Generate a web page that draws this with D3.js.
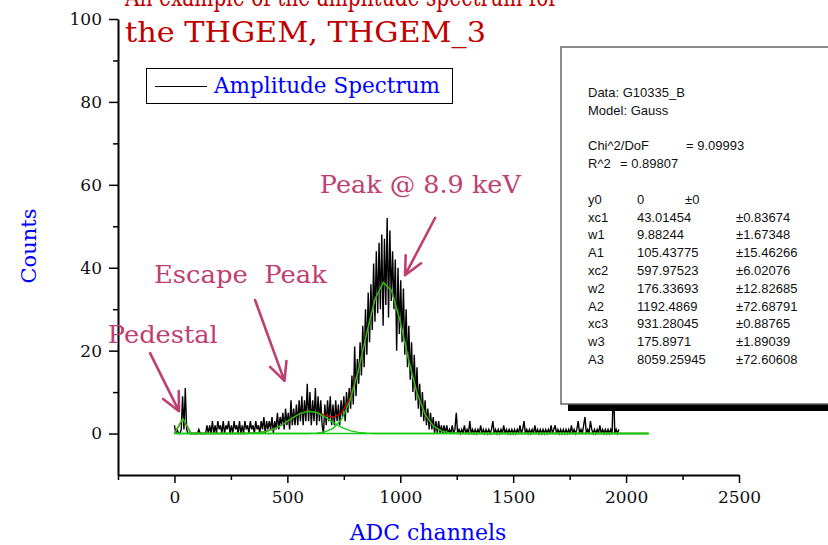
<!DOCTYPE html>
<html><head><meta charset="utf-8">
<script src="https://cdn.jsdelivr.net/npm/d3@7"></script>
<style>body{margin:0;background:#fff;overflow:hidden} svg{display:block}</style>
</head><body><svg id="c" width="828" height="545"></svg>
<script>
// ---------------- DATA ----------------
const spectrumStep = 6; // ADC channels per plotted bin
const spectrumCounts = [
 2,0,1,0,0,1,9,1,11,1,
 0,0,0,0,0,0,0,0,1,0,
 0,0,0,0,2,0,2,0,3,0,
 2,0,3,1,2,0,3,0,2,1,
 3,0,2,0,3,1,2,0,3,0,
 2,0,3,1,2,0,3,1,2,0,
 3,1,2,0,3,1,4,0,3,1,
 3,1,4,0,3,1,5,1,4,2,
 5,1,6,2,5,1,8,2,6,2,
 7,2,8,3,9,2,8,3,12,3,
 10,2,8,3,11,2,9,3,8,2,
 0,7,2,8,3,9,2,7,2,8,
 3,7,2,8,4,9,3,10,5,11,
 6,14,7,21,9,18,12,22,14,26,
 16,30,19,34,22,36,25,41,27,44,
 29,46,30,48,26,47,31,52,28,49,
 32,44,30,42,20,40,24,37,22,35,
 19,30,16,26,13,22,10,19,8,16,
 6,12,4,10,3,8,2,6,1,5,
 1,4,0,3,0,3,0,2,0,2,
 0,2,0,1,0,2,0,1,5,0,
 1,0,1,0,2,0,1,0,3,0,
 1,0,1,0,1,0,2,0,1,0,
 1,0,1,0,1,3,0,1,0,1,
 0,1,0,2,0,1,0,1,0,1,
 0,1,0,1,0,2,0,1,3,0,
 1,0,1,0,1,0,2,0,1,0,
 1,0,1,0,1,0,1,0,2,0,
 1,2,0,1,0,1,0,1,0,1,
 0,1,0,2,0,1,0,1,3,0,
 1,0,2,4,0,1,0,3,1,0,
 1,0,1,0,2,0,1,0,1,0,
 1,0,1,0,12,0,1,0,1
];
const fitChannels = [0,37,74,111,148,185,222,259,296,333,370,407,444,481,518,555,592,629,666,703,740,777,814,851,888,925,962,999,1036,1073,1110,1147,1184,1221,1258,1295,1332,1369,1406,1443,1480,1517,1554,1591,1628,1665,1702,1739,1776,1813,1850,1887,1924,1961,1998,2035,2072,2100];
const fitPedestal = [0,3.6,0,0,0,0,0,0,0,0,0,0,0,0,0,0,0,0,0,0,0,0,0,0,0,0,0,0,0,0,0,0,0,0,0,0,0,0,0,0,0,0,0,0,0,0,0,0,0,0,0,0,0,0,0,0,0,0];
const fitEscape = [0,0,0,0,0,0,0,0,0.02,0.06,0.19,0.52,1.17,2.24,3.58,4.79,5.38,5.07,4.01,2.66,1.48,0.69,0.27,0.09,0.02,0,0,0,0,0,0,0,0,0,0,0,0,0,0,0,0,0,0,0,0,0,0,0,0,0,0,0,0,0,0,0,0,0];
const fitMain = [0,0,0,0,0,0,0,0,0,0,0,0,0,0,0,0,0.02,0.10,0.39,1.26,3.43,7.85,15.02,24.10,32.39,36.46,34.40,27.18,18.00,9.98,4.64,1.81,0.59,0.16,0.04,0,0,0,0,0,0,0,0,0,0,0,0,0,0,0,0,0,0,0,0,0,0,0];
const fitTotal = [0,3.6,0,0,0,0,0,0,0.02,0.06,0.19,0.52,1.17,2.24,3.58,4.79,5.40,5.17,4.40,3.92,4.91,8.54,15.29,24.19,32.41,36.46,34.40,27.18,18.00,9.98,4.64,1.81,0.59,0.16,0.04,0,0,0,0,0,0,0,0,0,0,0,0,0,0,0,0,0,0,0,0,0,0,0];
const xMajorTicks = [0,500,1000,1500,2000,2500];
const xMinorTicks = [-250,250,750,1250,1750,2250];
const yMajorTicks = [0,20,40,60,80,100];
const yMinorTicks = [10,30,50,70,90];
const titleLines = ["An example of the amplitude spectrum for","the THGEM, THGEM_3"];
const legendLabel = "Amplitude Spectrum";
const xTitle = "ADC channels", yTitle = "Counts";
const statsHeader = [
  ["Data: G10335_B"],
  ["Model: Gauss"],
  [],
  ["Chi^2/DoF","= 9.09993"],
  ["R^2","= 0.89807"],
  []
];
const statsParams = [
  ["y0","0","±0"],
  ["xc1","43.01454","±0.83674"],
  ["w1","9.88244","±1.67348"],
  ["A1","105.43775","±15.46266"],
  ["xc2","597.97523","±6.02076"],
  ["w2","176.33693","±12.82685"],
  ["A2","1192.4869","±72.68791"],
  ["xc3","931.28045","±0.88765"],
  ["w3","175.8971","±1.89039"],
  ["A3","8059.25945","±72.60608"]
];
// annotations: [text, textX(ch), textY(count), arrowFrom[ch,count], arrowTo[ch,count], width]
const annotations = [
  ["Pedestal", -295, 21.8, [-108,19.4], [20,5.4], 110],
  ["Escape  Peak", -91, 36.3, [357,32.2], [487,12.7], 173],
  ["Peak @ 8.9 keV", 644, 58.0, [1154,52.0], [1021,38.2], 201]
];

// ---------------- CHART ----------------
const svg = d3.select("#c");
const SERIF = "'DejaVu Serif', serif";
const SANS = "'Liberation Sans', Arial, sans-serif";
const x = d3.scaleLinear().domain([-250,2500]).range([118,739]);
const y = d3.scaleLinear().domain([-10,100]).range([475,19]);

// title
titleLines.forEach((t,i)=>{
  svg.append("text").attr("x",125).attr("y",[6,42][i])
    .attr("font-family",SERIF).attr("font-size",28).attr("fill","#c00000")
    .attr("textLength",[433,361][i]).attr("lengthAdjust","spacingAndGlyphs").text(t);
});

// axes
function styleAxis(g){
  g.select(".domain").attr("stroke","#000").attr("stroke-width",2);
  g.selectAll(".tick line").attr("stroke","#000").attr("stroke-width",1.5);
  g.selectAll(".tick text").attr("font-family",SERIF).attr("font-size",17).attr("fill","#111");
}
const fmt = d3.format("d");
const gy = svg.append("g").attr("transform","translate(118,0)")
  .call(d3.axisLeft(y).tickValues(yMajorTicks).tickFormat(fmt).tickSize(9).tickSizeOuter(0).tickPadding(7));
styleAxis(gy);
const gym = svg.append("g").attr("transform","translate(118,0)")
  .call(d3.axisLeft(y).tickValues(yMinorTicks).tickSize(5).tickSizeOuter(0).tickFormat(""));
styleAxis(gym); gym.select(".domain").remove();
const gx = svg.append("g").attr("transform","translate(0,475)")
  .call(d3.axisBottom(x).tickValues(xMajorTicks).tickFormat(fmt).tickSize(8).tickSizeOuter(0).tickPadding(8));
styleAxis(gx);
const gxm = svg.append("g").attr("transform","translate(0,475)")
  .call(d3.axisBottom(x).tickValues(xMinorTicks).tickSize(5).tickSizeOuter(0).tickFormat(""));
styleAxis(gxm); gxm.select(".domain").remove();

svg.append("text").attr("transform","translate(36,246) rotate(-90)").attr("text-anchor","middle")
  .attr("font-family",SERIF).attr("font-size",21).attr("fill","#0000ff").text(yTitle);
svg.append("text").attr("x",428).attr("y",540).attr("text-anchor","middle")
  .attr("font-family",SERIF).attr("font-size",22).attr("fill","#0000ff").text(xTitle);

// spectrum
const spec = spectrumCounts.map((v,i)=>({c:i*spectrumStep,v}));
svg.append("path").datum(spec)
  .attr("d",d3.line().x(d=>x(d.c)).y(d=>y(d.v)))
  .attr("fill","none").attr("stroke","#000").attr("stroke-width",1.4).attr("stroke-linejoin","miter");

// fits
const fitLine = arr => d3.line().x((d,i)=>x(fitChannels[i])).y(d=>y(d))(arr);
svg.append("path").attr("d",fitLine(fitTotal)).attr("fill","none").attr("stroke","#d00000").attr("stroke-width",1.4);
[fitPedestal,fitEscape,fitMain].forEach(arr=>{
  svg.append("path").attr("d",fitLine(arr)).attr("fill","none").attr("stroke","#14cc14").attr("stroke-width",1.4);
});

// annotations
const ANN = "#bf4070";
annotations.forEach(([t,tx,ty,from,to,w])=>{
  svg.append("text").attr("x",x(tx)).attr("y",y(ty)).attr("font-family",SERIF).attr("font-size",25)
    .attr("fill",ANN).style("white-space","pre").attr("textLength",w).attr("lengthAdjust","spacingAndGlyphs").text(t);
  const x1=x(from[0]), y1=y(from[1]), x2=x(to[0]), y2=y(to[1]);
  const ang = Math.atan2(y1-y2, x1-x2), L=20, sp=0.45;
  const p = d3.path();
  p.moveTo(x1,y1); p.lineTo(x2,y2);
  p.moveTo(x2+L*Math.cos(ang+sp), y2+L*Math.sin(ang+sp)); p.lineTo(x2,y2);
  p.lineTo(x2+L*Math.cos(ang-sp), y2+L*Math.sin(ang-sp));
  svg.append("path").attr("d",p.toString()).attr("fill","none").attr("stroke",ANN)
    .attr("stroke-width",2.6).attr("stroke-linecap","round").attr("stroke-linejoin","round");
});

// legend
svg.append("rect").attr("x",146.5).attr("y",68.5).attr("width",306).attr("height",35)
  .attr("fill","#fff").attr("stroke","#000").attr("stroke-width",1);
svg.append("line").attr("x1",155).attr("x2",207).attr("y1",86.5).attr("y2",86.5).attr("stroke","#000").attr("stroke-width",1);
svg.append("text").attr("x",214).attr("y",93).attr("font-family",SERIF).attr("font-size",21.5)
  .attr("fill","#0000ff").attr("textLength",226).attr("lengthAdjust","spacingAndGlyphs").text(legendLabel);

// stats box
svg.append("rect").attr("x",568).attr("y",54).attr("width",320).attr("height",357).attr("fill","#000");
svg.append("rect").attr("x",561).attr("y",47).attr("width",320).attr("height",357)
  .attr("fill","#fff").attr("stroke","#666").attr("stroke-width",1.5);
const st = svg.append("g").attr("font-family",SANS).attr("font-size",13).attr("fill","#111");
const lineY = k => 97 + 17.8*k;
statsHeader.forEach((cells,k)=>{
  const cols = k===3 ? [588,686] : [588,620];
  cells.forEach((c,j)=>st.append("text").attr("x",cols[j]).attr("y",lineY(k)).text(c));
});
statsParams.forEach((cells,r)=>{
  const k = statsHeader.length + r;
  const cols = [588,637, r===0 ? 685 : 736];
  cells.forEach((c,j)=>st.append("text").attr("x",cols[j]).attr("y",lineY(k)).text(c));
});
</script></body></html>
